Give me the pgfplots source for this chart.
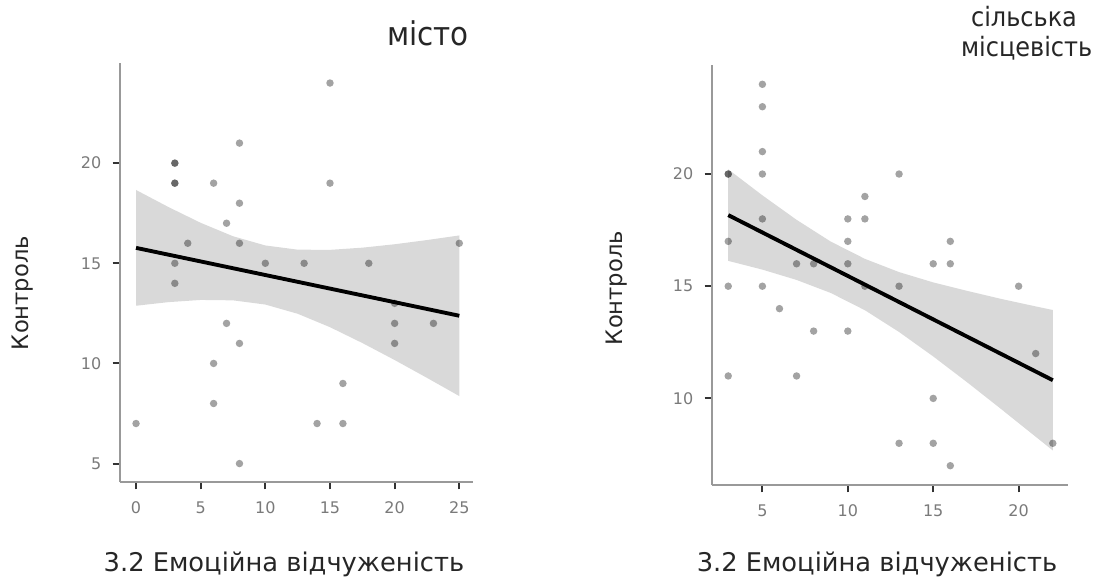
\documentclass[border=0pt]{standalone}
\usepackage{fontspec}
\setmainfont{DejaVu Sans}
\newfontfamily\condfont{DejaVu Sans Condensed}
\usepackage{pgfplots}
\pgfplotsset{compat=1.18}
\definecolor{bandgray}{HTML}{D9D9D9}
\definecolor{axgray}{HTML}{999999}
\definecolor{tickgray}{HTML}{333333}
\definecolor{labgray}{HTML}{7A7A7A}
\pgfplotsset{
  myax/.style={
    scale only axis,
    axis x line*=bottom, axis y line*=left,
    axis line style={draw=axgray, line width=2.2pt, -},
    tick align=outside,
    major tick length=5.5pt,
    tick style={draw=tickgray, line width=1.4pt},
    ticklabel style={font=\fontsize{12}{12}\selectfont, text=labgray},
    /pgf/number format/assume math mode=true,
    xticklabel style={yshift=-6pt},
    yticklabel style={xshift=-5pt},
    clip=false,
  },
  pts/.style={only marks, mark=*, mark size=2.8pt, draw opacity=0,
    mark options={draw opacity=0, fill=black, fill opacity=0.36}},
  band/.style={draw=none, fill=bandgray},
  fit/.style={black, line width=2.9pt, no marks},
}
\pgfplotstableread{
x y
0 7
3 20
3 20
3 19
3 19
3 15
3 14
4 16
6 19
6 10
6 8
7 17
7 12
8 21
8 18
8 16
8 11
8 5
10 15
13 15
14 7
15 24
15 19
16 9
16 7
18 15
20 13
20 12
20 11
23 12
25 16
}\citypts
\pgfplotstableread{
x y
3 20
3 20
3 17
3 15
3 11
5 24
5 23
5 21
5 20
5 18
5 15
6 14
7 16
7 11
8 16
8 13
10 18
10 17
10 16
10 13
11 19
11 18
11 15
13 20
13 15
13 8
15 16
15 10
15 8
16 17
16 16
16 7
20 15
21 12
22 8
}\villpts
\begin{document}
\begin{tikzpicture}
\path[use as bounding box] (0,0) rectangle (824.25pt,-435.75pt);
% ---------- left panel ----------
\begin{axis}[myax,
  at={(90pt,-361.5pt)}, anchor=south west,
  width=264.75pt, height=314.25pt,
  xmin=-1.24, xmax=26.06, ymin=4.08, ymax=25,
  xtick={0,5,10,15,20,25}, ytick={5,10,15,20}]
\addplot[band] coordinates {(0,18.66) (2.5,17.81) (5,17.02) (7.5,16.35) (10,15.89) (12.5,15.68) (15,15.67) (17.5,15.78) (20,15.95) (22.5,16.16) (25,16.39)
 (25,8.37) (22.5,9.28) (20,10.17) (17.5,11.02) (15,11.81) (12.5,12.48) (10,12.94) (7.5,13.15) (5,13.17) (2.5,13.06) (0,12.88)} -- cycle;
\addplot[pts] table[x=x,y=y] {\citypts};
\addplot[fit] coordinates {(0,15.77) (25,12.38)};
\end{axis}
% ---------- right panel ----------
\begin{axis}[myax,
  at={(534pt,-363.75pt)}, anchor=south west,
  width=267pt, height=315pt,
  xmin=2.05, xmax=22.89, ymin=6.14, ymax=24.86,
  xtick={5,10,15,20}, ytick={10,15,20}]
\addplot[band] coordinates {(3,20.21) (5,19.05) (7,17.96) (9,16.99) (11,16.22) (13,15.63) (15,15.17) (17,14.79) (19,14.43) (21,14.10) (22,13.94)
 (22,7.68) (21,8.29) (19,9.51) (17,10.71) (15,11.87) (13,12.96) (11,13.93) (9,14.70) (7,15.28) (5,15.74) (3,16.13)} -- cycle;
\addplot[pts] table[x=x,y=y] {\villpts};
\addplot[fit] coordinates {(3,18.17) (22,10.81)};
\end{axis}
% ---------- texts ----------
\node[anchor=base, font=\condfont\fontsize{24.5}{24.5}\selectfont, text=black!85] at (321pt,-34.5pt) {місто};
\node[anchor=base, font=\condfont\fontsize{20}{20}\selectfont, text=black!85] at (768pt,-20.25pt) {сільська};
\node[anchor=base, font=\condfont\fontsize{20}{20}\selectfont, text=black!85] at (770pt,-42.75pt) {місцевість};
\node[anchor=base, font=\fontsize{19.3}{19.3}\selectfont, text=black!85] at (213pt,-428.5pt) {3.2 Емоційна відчуженість};
\node[anchor=base, font=\fontsize{19.3}{19.3}\selectfont, text=black!85] at (657.75pt,-428.5pt) {3.2 Емоційна відчуженість};
\node[rotate=90, font=\fontsize{17}{17}\selectfont, text=black!85] at (17.25pt,-219.75pt) {Контроль};
\node[rotate=90, font=\fontsize{17}{17}\selectfont, text=black!85] at (462.75pt,-216pt) {Контроль};
\end{tikzpicture}
\end{document}
